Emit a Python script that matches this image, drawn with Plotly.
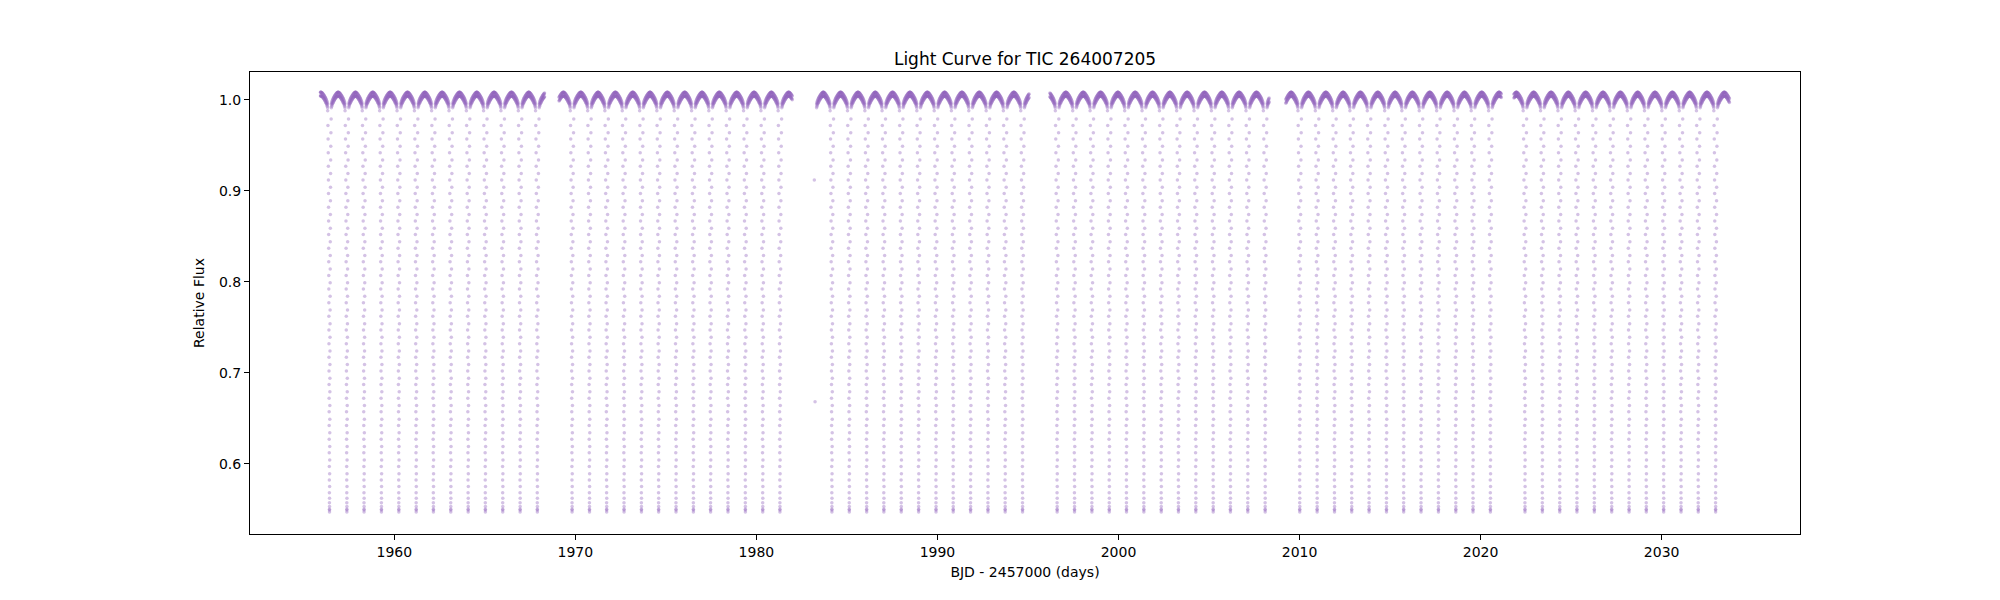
import numpy as np
import plotly.graph_objects as go

# mid-eclipse times (BJD - 2457000)
eclipse_times = [
    1955.46,
    1956.42, 1957.38, 1958.33, 1959.29, 1960.25, 1961.21, 1962.16, 1963.12, 1964.08, 1965.03,
    1965.99, 1966.95, 1967.90, 1968.86, 1969.82, 1970.78, 1971.73, 1972.69, 1973.65, 1974.60,
    1975.56, 1976.52, 1977.47, 1978.43, 1979.39, 1980.35, 1981.30, 1982.26, 1983.22, 1984.17,
    1985.13, 1986.09, 1987.04, 1988.00, 1988.96, 1989.92, 1990.87, 1991.83, 1992.79, 1993.74,
    1994.70, 1995.66, 1996.61, 1997.57, 1998.53, 1999.49, 2000.44, 2001.40, 2002.36, 2003.31,
    2004.27, 2005.23, 2006.18, 2007.14, 2008.10, 2009.06, 2010.01, 2010.97, 2011.93, 2012.88,
    2013.84, 2014.80, 2015.75, 2016.71, 2017.67, 2018.63, 2019.58, 2020.54, 2021.50, 2022.45,
    2023.41, 2024.37, 2025.32, 2026.28, 2027.24, 2028.20, 2029.15, 2030.11, 2031.07, 2032.02,
    2032.98, 2033.94,
]

# observing segments (start / end of each data chunk)
seg_start = [1955.92, 1969.09, 1983.32, 1996.20, 2009.23, 2021.83]
seg_end = [1968.31, 1981.98, 1995.07, 2008.32, 2021.14, 2033.75]

# eclipse profile, ingress side (days from mid-eclipse, relative flux)
ingress_dt = [-0.100, -0.086, -0.075, -0.068, -0.062, -0.058, -0.054, -0.051, -0.048, -0.045,
              -0.043, -0.041, -0.039, -0.037, -0.035, -0.033, -0.031, -0.029, -0.027, -0.025,
              -0.023, -0.021, -0.019, -0.017, -0.015, -0.013, -0.010, -0.008, -0.005, -0.003,
              -0.0015, 0.000]
ingress_flux = [0.988, 0.972, 0.957, 0.942, 0.927, 0.912, 0.897, 0.882, 0.867, 0.852,
                0.837, 0.822, 0.807, 0.792, 0.777, 0.762, 0.747, 0.732, 0.717, 0.702,
                0.687, 0.672, 0.657, 0.642, 0.627, 0.612, 0.597, 0.582, 0.568, 0.557,
                0.550, 0.547]
# egress side
egress_dt = [0.001, 0.002, 0.004, 0.007, 0.009, 0.012, 0.014, 0.016, 0.018, 0.020,
             0.022, 0.024, 0.026, 0.028, 0.030, 0.032, 0.034, 0.036, 0.038, 0.040,
             0.042, 0.044, 0.047, 0.049, 0.052, 0.056, 0.060, 0.065, 0.071, 0.080, 0.092]
egress_flux = [0.549, 0.553, 0.562, 0.575, 0.589, 0.604, 0.619, 0.634, 0.649, 0.664,
               0.679, 0.694, 0.709, 0.724, 0.739, 0.754, 0.769, 0.784, 0.799, 0.814,
               0.829, 0.844, 0.859, 0.874, 0.889, 0.904, 0.919, 0.934, 0.949, 0.964, 0.979]

# out-of-eclipse arch (one half, mirrored), upper and lower edge of the band
arch_dt = [0.105, 0.120, 0.140, 0.160, 0.180, 0.200, 0.220, 0.240, 0.260, 0.280,
           0.300, 0.320, 0.340, 0.360, 0.380, 0.400, 0.420, 0.440, 0.460, 0.478]
arch_upper = [0.9955, 0.9970, 0.9983, 0.9994, 1.0004, 1.0013, 1.0021, 1.0029, 1.0036, 1.0043,
              1.0049, 1.0055, 1.0061, 1.0066, 1.0071, 1.0075, 1.0079, 1.0082, 1.0084, 1.0085]
arch_lower = [0.9915, 0.9930, 0.9943, 0.9954, 0.9964, 0.9973, 0.9981, 0.9989, 0.9996, 1.0003,
              1.0009, 1.0015, 1.0021, 1.0026, 1.0031, 1.0035, 1.0039, 1.0042, 1.0044, 1.0045]

# two lone points at the start of the third chunk
stray_t = [1983.20, 1983.24]
stray_flux = [0.912, 0.668]

prof_dt = np.array(ingress_dt + egress_dt
                   + arch_dt + arch_dt + [-d for d in arch_dt] + [-d for d in arch_dt])
prof_flux = np.array(ingress_flux + egress_flux
                     + arch_upper + arch_lower + arch_upper + arch_lower)

t_all = np.concatenate([t0 + prof_dt for t0 in eclipse_times])
f_all = np.tile(prof_flux, len(eclipse_times))
keep = np.zeros(len(t_all), dtype=bool)
for a, b in zip(seg_start, seg_end):
    keep |= (t_all >= a) & (t_all <= b)
t_all = np.concatenate([t_all[keep], stray_t])
f_all = np.concatenate([f_all[keep], stray_flux])
order = np.argsort(t_all)

fig = go.Figure()
fig.add_trace(go.Scatter(
    x=t_all[order], y=f_all[order], mode='markers',
    marker=dict(size=3.5, color='#9467bd', opacity=0.4, line=dict(width=0)),
    showlegend=False,
))

axis_style = dict(
    showline=True, linecolor='black', linewidth=1.1, mirror=True,
    ticks='outside', ticklen=5, tickwidth=1.1, tickcolor='black',
    showgrid=False, zeroline=False,
    tickfont=dict(family='DejaVu Sans', size=14, color='black'),
)

# the page body adds 8px around the figure, margins are trimmed for that
fig.update_layout(
    width=2000, height=600,
    paper_bgcolor='white', plot_bgcolor='white',
    margin=dict(l=242, r=208, t=64, b=74),
    font=dict(family='DejaVu Sans', color='black'),
    title=dict(text='Light Curve for TIC 264007205', x=0.5, xref='paper',
               y=1 - 51 / 600, yref='container', yanchor='middle',
               font=dict(family='DejaVu Sans', size=17, color='black')),
)
fig.update_xaxes(axis_style, range=[1952.03, 2037.64], tickvals=[1960, 1970, 1980, 1990, 2000, 2010, 2020, 2030],
                 title=dict(text='BJD - 2457000 (days)', font=dict(size=14), standoff=8))
fig.update_yaxes(axis_style, range=[0.5227, 1.0307], tickvals=[0.6, 0.7, 0.8, 0.9, 1.0],
                 ticktext=['0.6', '0.7', '0.8', '0.9', '1.0'],
                 title=dict(text='Relative Flux', font=dict(size=14), standoff=10))

fig.write_html("out.html")
